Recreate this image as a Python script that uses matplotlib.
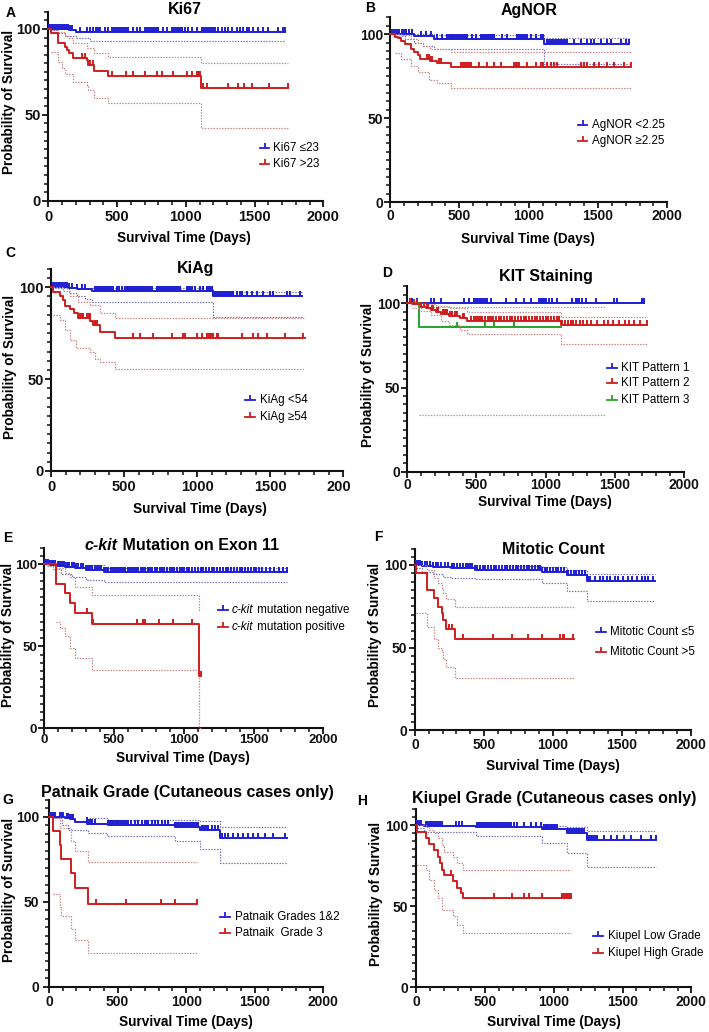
import matplotlib
matplotlib.use('Agg')
import matplotlib.pyplot as plt
import numpy as np
from matplotlib.lines import Line2D
from matplotlib.ticker import MultipleLocator
from matplotlib.transforms import Bbox, TransformedBbox

plt.rcParams['font.family'] = ['Liberation Sans', 'DejaVu Sans']

# ---------------- DATA (days / % survival) ----------------
# A: Ki67
A1_t = [0, 150, 205]; A1_s = [100, 99.2, 98.4]; A1_end = 1722
A1_lo_t = [10, 60, 120, 200, 300]; A1_lo = [99.4, 97.5, 96.0, 94.6, 93.2]
A1_hi_t = []; A1_hi = []
A1_cens = [5, 15, 25, 40, 55, 70, 85, 100, 115, 130, 145, 160, 175, 231, 279, 303, 328, 345, 360, 376, 412, 437,
           461, 473, 485, 497, 509, 521, 534, 546, 558, 570, 582, 618, 643, 667, 703, 715, 728, 740, 752, 764, 776,
           788, 800, 837, 861, 897, 910, 922, 934, 946, 958, 970, 994, 1018, 1043, 1079, 1115, 1128, 1140, 1152,
           1164, 1176, 1188, 1200, 1212, 1236, 1261, 1285, 1309, 1333, 1370, 1394, 1418, 1443, 1460, 1491, 1527,
           1564, 1600, 1673, 1709, 1720]
A2_t = [0, 20, 73, 121, 139, 152, 176, 279, 291, 335, 432, 1110]
A2_s = [100, 97.5, 91.7, 89.7, 87.8, 85.8, 82.9, 81.9, 79.0, 75.8, 72.7, 65.4]; A2_end = 1745
A2_hi_t = [20, 73, 121, 152, 176, 279, 335, 432, 1110]; A2_hi = [99.5, 98, 96, 94.5, 92, 89, 86, 83.9, 80.4]
A2_lo_t = [20, 73, 100, 121, 176, 279, 291, 335, 432, 1110]
A2_lo = [86.5, 81, 77, 74, 69, 67.2, 64.3, 60, 56.9, 42.6]
A2_cens = [243, 267, 303, 327, 461, 565, 618, 703, 788, 825, 909, 1006, 1043, 1079, 1090, 1100, 1128, 1152,
           1305, 1382, 1426, 1479, 1605, 1741]

# B: AgNOR
B1_t = [0, 170, 320, 1110]; B1_s = [100, 99.2, 97.2, 94.0]; B1_end = 1724
B1_hi_t = [170, 320, 1110]; B1_hi = [100, 99.6, 97.6]
B1_lo_t = [20, 110, 170, 240, 320, 1110]; B1_lo = [99, 97, 95, 93, 91, 82.1]
B1_cens = [17, 29, 41, 53, 65, 89, 101, 113, 137, 161, 221, 257, 293, 341, 377, 413, 425, 437, 449, 461, 473, 485,
           497, 509, 521, 534, 546, 558, 594, 618, 654, 666, 678, 690, 702, 714, 726, 738, 750, 810, 846, 918, 930,
           942, 954, 966, 978, 990, 1014, 1051, 1087, 1100, 1135, 1147, 1159, 1171, 1183, 1195, 1207, 1219, 1231,
           1243, 1255, 1267, 1279, 1327, 1375, 1423, 1447, 1471, 1519, 1567, 1591, 1664, 1700, 1724]
B2_t = [0, 35, 60, 80, 110, 150, 175, 200, 215, 285, 340, 440]
B2_s = [100, 98.6, 97.5, 96, 94, 91.5, 89.5, 87.5, 85.5, 84, 82.7, 80.8]; B2_end = 1736
B2_hi_t = [35, 80, 150, 200, 240, 285, 440]; B2_hi = [100, 99.5, 97, 95, 93, 91.5, 89.3]
B2_lo_t = [35, 80, 150, 200, 280, 340, 440]; B2_lo = [89, 85, 81, 77.5, 72.5, 70.8, 67.9]
B2_cens = [270, 282, 294, 305, 353, 365, 510, 522, 534, 546, 558, 570, 582, 642, 702, 750, 798, 894, 906, 918, 930,
           990, 1051, 1087, 1100, 1135, 1159, 1183, 1207, 1375, 1399, 1423, 1471, 1507, 1567, 1615, 1688, 1736]

# C: KiAg
C1_t = [0, 120, 175, 280, 1106]; C1_s = [100, 99.4, 98.8, 97.8, 95.0]; C1_end = 1715
C1_hi_t = [280, 1106]; C1_hi = [99.8, 97.6]
C1_lo_t = [10, 120, 175, 230, 280, 1106]; C1_lo = [99.5, 97, 95, 93.5, 92.2, 84]
C1_cens = [16, 28, 40, 52, 64, 76, 88, 100, 112, 124, 141, 176, 210, 233, 301, 313, 325, 337, 349, 361, 373, 385,
           397, 409, 426, 449, 466, 483, 506, 518, 530, 542, 554, 566, 578, 590, 602, 614, 626, 638, 650, 662, 674,
           689, 723, 735, 747, 759, 771, 783, 795, 807, 819, 831, 843, 855, 867, 882, 928, 940, 952, 964, 985, 1019,
           1042, 1065, 1076, 1088, 1099, 1110, 1122, 1134, 1146, 1158, 1170, 1182, 1194, 1206, 1218, 1230, 1247,
           1270, 1290, 1310, 1338, 1373, 1407, 1452, 1498, 1521, 1612, 1635, 1703]
C2_t = [0, 16, 60, 80, 96, 130, 160, 185, 270, 290, 335, 438]
C2_s = [100, 97.6, 95.5, 93, 90, 88, 86, 83.1, 81.5, 79.5, 75.8, 72.6]; C2_end = 1738
C2_hi_t = [16, 80, 130, 185, 270, 335, 438]; C2_hi = [100, 98, 95, 92, 90.5, 86, 83.5]
C2_lo_t = [16, 60, 96, 130, 170, 270, 300, 335, 438]; C2_lo = [85, 82, 77, 71.5, 67, 65, 61, 59.5, 55.5]
C2_cens = [198, 210, 222, 245, 257, 267, 300, 312, 563, 609, 700, 825, 905, 917, 996, 1031, 1065, 1076, 1088,
           1099, 1110, 1133, 1145, 1304, 1384, 1418, 1475, 1601, 1727]

# D: KIT staining
D1_t = [0]; D1_s = [100]; D1_end = 1711
D1_hi_t = []; D1_hi = []; D1_lo_t = []; D1_lo = []
D1_cens = [36, 72, 169, 193, 241, 410, 446, 482, 494, 506, 518, 530, 542, 554, 566, 578, 602, 711, 783, 843, 891,
           952, 964, 976, 988, 1000, 1024, 1048, 1084, 1193, 1217, 1229, 1241, 1265, 1289, 1361, 1494, 1518, 1699, 1711]
D2_t = [0, 36, 96, 133, 170, 205, 240, 300, 380, 430, 1108]
D2_s = [100, 99.4, 98, 97, 96, 94.7, 93.5, 92.5, 91.1, 89.7, 87.1]; D2_end = 1735
D2_hi_t = [36, 133, 205, 300, 430, 1108]; D2_hi = [100, 99.5, 98.5, 97, 95, 92.1]
D2_lo_t = [36, 96, 170, 240, 300, 380, 430, 1108]; D2_lo = [97, 95.5, 93, 89.5, 87, 84, 81.6, 75.8]
D2_cens = [20, 50, 70, 100, 120, 140, 150, 175, 185, 215, 225, 255, 265, 280, 290, 310, 320, 345, 360, 400, 410,
           460, 480, 500, 510, 520, 530, 540, 560, 580, 600, 610, 620, 640, 660, 680, 700, 720, 740, 760, 780, 800,
           820, 840, 860, 880, 900, 920, 940, 960, 980, 1000, 1020, 1040, 1060, 1080, 1100, 1120, 1140, 1160, 1180,
           1200, 1220, 1250, 1270, 1300, 1330, 1370, 1420, 1450, 1490, 1530, 1570, 1600, 1640, 1680, 1735]
D3_t = [0, 84]; D3_s = [100, 85.7]; D3_end = 1108; D3_ci_end = 1434
D3_hi_t = [84]; D3_hi = [98]; D3_lo_t = [84]; D3_lo = [33.7]
D3_cens = [357, 559, 627, 771]

# E: c-kit mutation
E1_t = [0, 40, 90, 150, 220, 300, 430]; E1_s = [100, 99.4, 98.8, 98.2, 97.5, 96.5, 95.3]; E1_end = 1737
E1_hi_t = [300, 430]; E1_hi = [99.5, 98]
E1_lo_t = [20, 60, 120, 200, 300, 430]; E1_lo = [99, 97, 94, 92, 90.5, 89]
E1_cens = [5, 15, 28, 40, 52, 65, 80, 95, 110, 125, 140, 150, 165, 180, 200, 215, 230, 245, 260, 280, 300, 315,
           330, 345, 360, 380, 395, 410, 430, 445, 460, 475, 490, 505, 520, 535, 550, 565, 580, 600, 615, 630, 645,
           660, 675, 690, 705, 720, 740, 760, 775, 790, 810, 830, 845, 860, 880, 900, 915, 930, 950, 970, 985, 1000,
           1020, 1040, 1060, 1080, 1100, 1120, 1140, 1160, 1180, 1200, 1220, 1240, 1260, 1280, 1300, 1320, 1340,
           1360, 1380, 1400, 1420, 1440, 1460, 1480, 1500, 1520, 1540, 1560, 1590, 1620, 1650, 1680, 1710, 1737]
E2_t = [0, 84, 148, 182, 218, 340, 1111]; E2_s = [100, 88.2, 82.4, 76.5, 70.6, 63.5, 31.8]; E2_end = 1120
E2_hi_t = [84, 148, 182, 218, 340, 1111]; E2_hi = [98, 95, 92, 86, 81, 72]
E2_lo_t = [84, 110, 148, 184, 220, 340, 1111]; E2_lo = [65, 61, 56, 49, 42.7, 35.5, 0]
E2_cens = [184, 308, 351, 662, 710, 722, 824, 925, 1057, 1120]

# F: mitotic count
F1_t = [0, 48, 130, 205, 260, 435, 919, 1100, 1245]
F1_s = [100, 99.5, 99, 98.5, 98, 97, 95.8, 93.7, 90.3]; F1_end = 1741
F1_hi_t = [600, 919, 1100, 1245]; F1_hi = [99.5, 98.5, 97, 94.5]
F1_lo_t = [10, 48, 130, 205, 260, 435, 919, 1100, 1245]; F1_lo = [98, 96, 94.5, 93, 92, 91.5, 88.9, 84.2, 78.2]
F1_cens = [5, 20, 35, 50, 70, 90, 109, 133, 150, 170, 190, 218, 242, 266, 285, 305, 327, 351, 370, 387, 399, 417,
           435, 447, 470, 490, 510, 530, 550, 570, 590, 610, 630, 650, 670, 690, 710, 730, 750, 770, 790, 810, 830,
           850, 870, 890, 907, 919, 940, 960, 980, 1000, 1020, 1040, 1060, 1080, 1100, 1112, 1130, 1150, 1170, 1190,
           1210, 1233, 1257, 1270, 1306, 1342, 1366, 1390, 1415, 1451, 1475, 1512, 1548, 1572, 1608, 1645, 1669,
           1693, 1729]
F2_t = [0, 7, 85, 138, 169, 193, 205, 225, 290]; F2_s = [100, 95, 85, 80.2, 74.7, 70.7, 66.7, 61.2, 55.2]
F2_end = 1153
F2_hi_t = [7, 85, 138, 169, 193, 205, 225, 290]; F2_hi = [100, 97, 92, 89, 86, 83, 79.3, 74.6]
F2_lo_t = [7, 85, 138, 169, 193, 205, 225, 290]; F2_lo = [70.7, 62.6, 55, 50, 47.5, 43, 38.4, 31.7]
F2_cens = [249, 266, 351, 564, 701, 822, 924, 1052, 1071, 1081, 1148]

# G: Patnaik grade
G1_t = [0, 117, 150, 190, 280, 432, 918, 1100, 1246]
G1_s = [100, 99, 98.4, 97, 96, 95.1, 94.1, 92.2, 87.3]; G1_end = 1733
G1_hi_t = [290, 432, 1100, 1246]; G1_hi = [99, 98.2, 97.2, 93.8]
G1_lo_t = [20, 92, 141, 287, 420, 918, 1100, 1246]; G1_lo = [99, 95, 92.4, 90.4, 88.5, 85.5, 81.2, 72.8]
G1_cens = [7, 20, 32, 44, 80, 92, 104, 129, 141, 153, 165, 177, 275, 287, 299, 311, 335, 433, 445, 457, 469, 481,
           493, 505, 517, 529, 541, 553, 565, 577, 600, 625, 650, 675, 700, 712, 724, 750, 775, 797, 821, 846, 870,
           919, 931, 943, 955, 967, 979, 991, 1003, 1015, 1027, 1040, 1052, 1064, 1077, 1089, 1113, 1125, 1137, 1149,
           1161, 1185, 1210, 1234, 1259, 1283, 1307, 1344, 1380, 1417, 1453, 1490, 1526, 1575, 1635, 1720]
G2_t = [0, 30, 80, 90, 160, 190, 285]; G2_s = [100, 91.7, 83.3, 75, 66.7, 58.3, 48.6]; G2_end = 1077
G2_hi_t = [30, 80, 160, 190, 285]; G2_hi = [99, 93.3, 85.5, 80, 73.5]
G2_lo_t = [30, 80, 90, 160, 190, 285]; G2_lo = [54.5, 47, 41.5, 34, 27.5, 19.6]
G2_cens = [340, 561, 817, 918, 1077]

# H: Kiupel grade
H1_t = [0, 56, 431, 916, 1098, 1243]; H1_s = [100, 99.4, 98.6, 97.3, 95.3, 90.8]; H1_end = 1740
H1_hi_t = [916, 1098, 1243]; H1_hi = [99.5, 98.8, 96.3]
H1_lo_t = [7, 56, 431, 916, 1098, 1243]; H1_lo = [98, 95.9, 93.2, 89.1, 83, 74.3]
H1_cens = [7, 20, 32, 68, 80, 92, 104, 116, 128, 140, 153, 165, 177, 189, 286, 310, 334, 444, 456, 468, 480, 492,
           504, 516, 528, 540, 552, 565, 577, 589, 601, 613, 625, 637, 650, 662, 674, 686, 710, 734, 783, 831, 868,
           904, 928, 940, 952, 964, 976, 988, 1000, 1012, 1025, 1098, 1110, 1122, 1134, 1146, 1158, 1170, 1183, 1195,
           1207, 1219, 1256, 1268, 1280, 1292, 1304, 1316, 1365, 1413, 1462, 1510, 1559, 1631, 1704, 1740]
H2_t = [0, 7, 70, 90, 130, 155, 170, 190, 205, 270, 295, 325, 340]
H2_s = [100, 95.9, 92, 88.5, 84.5, 80.5, 76.7, 72.5, 69.5, 65.7, 61.5, 58, 54.8]; H2_end = 1122
H2_hi_t = [7, 70, 90, 130, 155, 190, 205, 270, 295, 340]; H2_hi = [100, 98.5, 97, 95, 92, 88, 83.6, 80, 76.4, 72.3]
H2_lo_t = [7, 70, 90, 130, 155, 190, 270, 295, 340]; H2_lo = [75.4, 72, 66, 60, 55, 47.6, 44, 38.4, 33.3]
H2_cens = [250, 565, 698, 783, 819, 916, 1062, 1074, 1086, 1098, 1110, 1122]

# Labels
TITLES = ['Ki67', 'AgNOR', 'KiAg', 'KIT Staining', None, 'Mitotic Count',
          'Patnaik Grade (Cutaneous cases only)', 'Kiupel Grade (Cutaneous cases only)']
LETTERS = ['A', 'B', 'C', 'D', 'E', 'F', 'G', 'H']
LEG_A = ['Ki67 \u226423', 'Ki67 >23']
LEG_B = ['AgNOR <2.25', 'AgNOR \u22652.25']
LEG_C = ['KiAg <54', 'KiAg \u226554']
LEG_D = ['KIT Pattern 1', 'KIT Pattern 2', 'KIT Pattern 3']
LEG_E = [[('c-kit', 'italic'), (' mutation negative', 'normal')],
         [('c-kit', 'italic'), (' mutation positive', 'normal')]]
LEG_F = ['Mitotic Count \u22645', 'Mitotic Count >5']
LEG_G = ['Patnaik Grades 1&2', 'Patnaik  Grade 3']
LEG_H = ['Kiupel Low Grade', 'Kiupel High Grade']
X_TICKS = [0, 500, 1000, 1500, 2000]
Y_TICKS = [0, 50, 100]

# ---------------- STYLE / LAYOUT ----------------
W, H = 709, 1032
BLUE = '#1e1ed2'; RED = '#cf1d1d'; GREEN = '#27a327'
BLUE_CI = '#6d6db8'; RED_CI = '#c97f7f'; GREEN_CI = '#6cc06c'

fig = plt.figure(figsize=(W / 100, H / 100), dpi=100)
renderer = fig.canvas.get_renderer()


def fx(x):
    return x / W


def fy(y):
    return 1 - y / H


def runs_text(x, y, runs, fs, weight, ha='left'):
    objs = []
    for txt, st in runs:
        objs.append(fig.text(0, fy(y), txt, fontsize=fs, fontweight=weight, style=st, va='center', ha='left'))
    widths = [o.get_window_extent(renderer).width for o in objs]
    start = x - sum(widths) / 2 if ha == 'center' else x
    for o, w in zip(objs, widths):
        o.set_x(fx(start))
        start += w


def surv_at(t, s, x):
    idx = np.searchsorted(np.asarray(t), np.asarray(x), side='right') - 1
    return np.asarray(s)[idx]


def draw_series(ax, t, s, end, ci_end, cens, lo_t, lo, hi_t, hi, color, cicolor, z):
    for ct, cv in ((lo_t, lo), (hi_t, hi)):
        if len(ct):
            ax.step(list(ct) + [ci_end], list(cv) + [cv[-1]], where='post', color=cicolor, lw=0.85,
                    ls=(0, (1.2, 1.2)), zorder=z - 1, clip_on=False)
    ax.step(list(t) + [end], list(s) + [s[-1]], where='post', color=color, lw=1.4, zorder=z, clip_on=False)
    ax.plot(cens, surv_at(t, s, cens), ls='none', marker=2, ms=3.8, mew=1.4, color=color, zorder=z,
            clip_on=False)


def setup_axes(rect_px, xpad, ypad, fs_tick):
    l, r, b, t = rect_px
    ax = fig.add_axes([fx(l), fy(b), (r - l) / W, (b - t) / H])
    ax.set_xlim(0, 2000)
    ax.set_ylim(0, 110)
    ax.set_xticks(X_TICKS)
    ax.set_yticks(Y_TICKS)
    ax.xaxis.set_minor_locator(MultipleLocator(100))
    ax.yaxis.set_minor_locator(MultipleLocator(5))
    for sp in ('top', 'right'):
        ax.spines[sp].set_visible(False)
    for sp in ('left', 'bottom'):
        ax.spines[sp].set_linewidth(1.5)
        ax.spines[sp].set_color('#111111')
    ax.tick_params(axis='both', which='major', length=4.3, width=1.3, colors='#111111', labelsize=fs_tick)
    ax.tick_params(axis='both', which='minor', length=2.8, width=1.1, colors='#111111')
    ax.tick_params(axis='x', which='major', pad=xpad)
    ax.tick_params(axis='y', which='major', pad=ypad)
    for lab in ax.get_xticklabels() + ax.get_yticklabels():
        lab.set_fontweight('bold')
    ax.patch.set_alpha(0)
    return ax


def add_legend(x0, x1, xt, rows, labels, colors, fs=8.4):
    for y, lab, c in zip(rows, labels, colors):
        fig.add_artist(Line2D([fx(x0), fx(x1)], [fy(y), fy(y)], color=c, lw=1.3))
        fig.add_artist(Line2D([fx((x0 + x1) / 2)], [fy(y)], marker=2, ms=3.6, mew=1.3, color=c, ls='none'))
        runs = lab if isinstance(lab, list) else [(lab, 'normal')]
        runs_text(xt, y, runs, fs, 'normal')


PANELS = [
    dict(rect=(48.3, 323.3, 200.7, 11.8), xpad=2.6, ypad=1.0, tfs=10.5, title=(185, 9), letter=(11, 13),
         xl=(184, 238), yl=(9, 102), leg=(260, 269, 273, [148, 164])),
    dict(rect=(390, 667.3, 202.3, 17.5), xpad=0.8, ypad=0.7, tfs=10, title=(529, 11), letter=(370, 8),
         xl=(528, 239), yl=None, leg=(578, 587, 592, [125, 141])),
    dict(rect=(51, 343.3, 471, 268.9), xpad=2.0, ypad=0.7, tfs=10.5, title=(196, 268), letter=(10, 253),
         xl=(200, 509), yl=(10, 367), leg=(245, 255, 260, [400, 417])),
    dict(rect=(407.3, 684, 471.7, 286.5), xpad=0.3, ypad=1.0, tfs=10, title=(546, 277), letter=(387, 273),
         xl=(545, 502), yl=(368, 375), leg=(607, 617, 621, [368, 383, 400])),
    dict(rect=(44.3, 323.3, 728.3, 547.9), xpad=0.0, ypad=0.7, tfs=9.5, title=(182, 546), letter=(8, 538),
         xl=(183, 758), yl=(8, 635), leg=(218, 228, 232, [610, 627])),
    dict(rect=(415, 690.7, 730, 548.5), xpad=1.4, ypad=1.3, tfs=10, title=(553, 550), letter=(378, 537),
         xl=(553, 766), yl=(375, 635), leg=(596, 606, 610, [632, 652])),
    dict(rect=(49, 323.3, 986.7, 799.7), xpad=1.4, ypad=2.6, tfs=10, title=(187, 792), letter=(8, 800),
         xl=(186, 1022), yl=(9, 890), leg=(220, 230, 235, [917, 933])),
    dict(rect=(416.3, 691.3, 987.3, 808.8), xpad=1.5, ypad=1.5, tfs=10, title=(554, 798), letter=(362, 801),
         xl=(554, 1022), yl=(376, 894), leg=(593, 603, 608, [936, 953])),
]

SERIES = [
    [(A1_t, A1_s, A1_end, A1_end, A1_cens, A1_lo_t, A1_lo, A1_hi_t, A1_hi, BLUE, BLUE_CI),
     (A2_t, A2_s, A2_end, A2_end, A2_cens, A2_lo_t, A2_lo, A2_hi_t, A2_hi, RED, RED_CI)],
    [(B1_t, B1_s, B1_end, B1_end, B1_cens, B1_lo_t, B1_lo, B1_hi_t, B1_hi, BLUE, BLUE_CI),
     (B2_t, B2_s, B2_end, B2_end, B2_cens, B2_lo_t, B2_lo, B2_hi_t, B2_hi, RED, RED_CI)],
    [(C1_t, C1_s, C1_end, C1_end, C1_cens, C1_lo_t, C1_lo, C1_hi_t, C1_hi, BLUE, BLUE_CI),
     (C2_t, C2_s, C2_end, C2_end, C2_cens, C2_lo_t, C2_lo, C2_hi_t, C2_hi, RED, RED_CI)],
    [(D1_t, D1_s, D1_end, D1_end, D1_cens, D1_lo_t, D1_lo, D1_hi_t, D1_hi, BLUE, BLUE_CI),
     (D3_t, D3_s, D3_end, D3_ci_end, D3_cens, D3_lo_t, D3_lo, D3_hi_t, D3_hi, GREEN, GREEN_CI),
     (D2_t, D2_s, D2_end, D2_end, D2_cens, D2_lo_t, D2_lo, D2_hi_t, D2_hi, RED, RED_CI)],
    [(E1_t, E1_s, E1_end, E1_end, E1_cens, E1_lo_t, E1_lo, E1_hi_t, E1_hi, BLUE, BLUE_CI),
     (E2_t, E2_s, E2_end, E2_end, E2_cens, E2_lo_t, E2_lo, E2_hi_t, E2_hi, RED, RED_CI)],
    [(F1_t, F1_s, F1_end, F1_end, F1_cens, F1_lo_t, F1_lo, F1_hi_t, F1_hi, BLUE, BLUE_CI),
     (F2_t, F2_s, F2_end, F2_end, F2_cens, F2_lo_t, F2_lo, F2_hi_t, F2_hi, RED, RED_CI)],
    [(G1_t, G1_s, G1_end, G1_end, G1_cens, G1_lo_t, G1_lo, G1_hi_t, G1_hi, BLUE, BLUE_CI),
     (G2_t, G2_s, G2_end, G2_end, G2_cens, G2_lo_t, G2_lo, G2_hi_t, G2_hi, RED, RED_CI)],
    [(H1_t, H1_s, H1_end, H1_end, H1_cens, H1_lo_t, H1_lo, H1_hi_t, H1_hi, BLUE, BLUE_CI),
     (H2_t, H2_s, H2_end, H2_end, H2_cens, H2_lo_t, H2_lo, H2_hi_t, H2_hi, RED, RED_CI)],
]
LEGENDS = [LEG_A, LEG_B, LEG_C, LEG_D, LEG_E, LEG_F, LEG_G, LEG_H]
LEG_COLORS = [[BLUE, RED], [BLUE, RED], [BLUE, RED], [BLUE, RED, GREEN], [BLUE, RED], [BLUE, RED],
              [BLUE, RED], [BLUE, RED]]

for i, P in enumerate(PANELS):
    ax = setup_axes(P['rect'], P['xpad'], P['ypad'], P['tfs'])
    for k, ser in enumerate(SERIES[i]):
        t, s, end, ci_end, cens, lo_t, lo, hi_t, hi, col, cicol = ser
        draw_series(ax, t, s, end, ci_end, cens, lo_t, lo, hi_t, hi, col, cicol, 3 + 2 * k)
    if i == 2:
        # the reference crops the last x tick label of panel C at the column edge
        lab = ax.get_xticklabels()[-1]
        lab.set_clip_box(TransformedBbox(Bbox([[0, 0], [351 / W, 1]]), fig.transFigure))
        lab.set_clip_on(True)
    tx, ty = P['title']
    if TITLES[i] is None:
        runs_text(tx, ty, [('c-kit', 'italic'), (' Mutation on Exon 11', 'normal')], 11.5, 'bold', ha='center')
    else:
        fig.text(fx(tx), fy(ty), TITLES[i], fontsize=11.5, fontweight='bold', ha='center', va='center')
    lx, ly = P['letter']
    fig.text(fx(lx), fy(ly), LETTERS[i], fontsize=10, fontweight='bold', ha='center', va='center')
    xx, xy = P['xl']
    fig.text(fx(xx), fy(xy), 'Survival Time (Days)', fontsize=9.8, fontweight='bold', ha='center', va='center')
    if P['yl'] is not None:
        yx, yy = P['yl']
        fig.text(fx(yx), fy(yy), 'Probability of Survival', fontsize=9.8, fontweight='bold', ha='center',
                 va='center', rotation=90)
    x0, x1, xt, rows = P['leg']
    add_legend(x0, x1, xt, rows, LEGENDS[i], LEG_COLORS[i])

fig.savefig('out.png', dpi=100)
